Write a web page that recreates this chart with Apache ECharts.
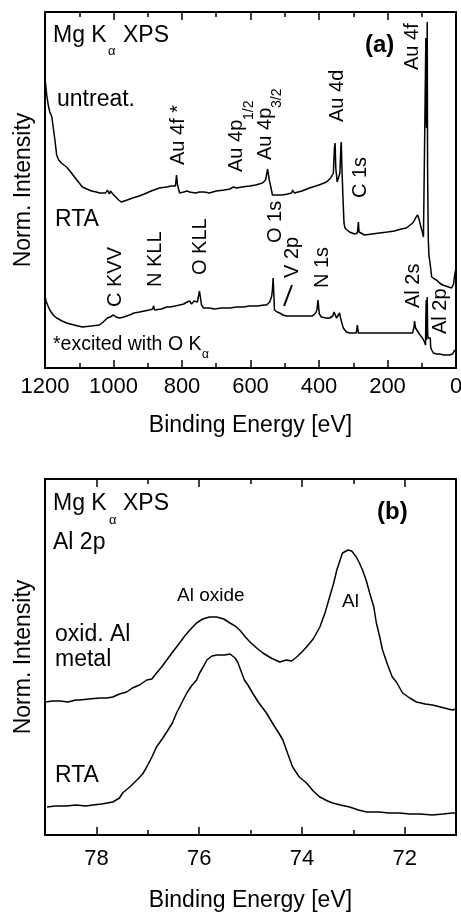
<!DOCTYPE html>
<html>
<head>
<meta charset="utf-8">
<script src="https://cdn.jsdelivr.net/npm/echarts@6/dist/echarts.min.js"></script>
<style>
  html, body { margin: 0; padding: 0; background: #fff; }
  #chart { width: 461px; height: 914px; }
</style>
</head>
<body>
<div id="chart"></div>
<script>
// (a) survey spectra, [binding energy eV, norm. intensity a.u.]
const surveyUntreated = [
  [1200,290],[1197,280],[1195,273],[1190,262],[1186,256],[1180,251],[1175,238],[1171,228],[1166,213],[1160,208],
  [1152,205],[1145,203],[1137,201],[1125,196],[1114,191],[1100,185],[1091,181],[1078,179],[1064,177],[1050,176],
  [1041,175],[1023,175],[1018,178],[1015,176],[1012,174],[1009,177],[1006,177],[1002,174],[997,172],[985,168],
  [977,166],[960,168],[944,170],[925,172],[910,174],[890,177],[866,180],[845,181],[831,182],[819,182],
  [816,193],[813,183],[807,175],[795,176],[785,177],[778,176],[760,175],[749,176],[735,176],[720,175],
  [700,177],[676,178],[660,179],[650,181],[647,182],[641,180],[625,181],[603,182],[585,183],[565,185],
  [556,188],[550,199],[546,190],[544,186],[540,180],[536,173],[520,173],[507,173],[492,174],[480,175],
  [477,178],[472,175],[450,177],[428,180],[400,183],[378,186],[366,190],[358,195],[355,220],[353,225],
  [351,200],[347,186],[343,185],[339,195],[336,222],[335,226],[333,200],[330,170],[327,145],[324,140],
  [318,138],[311,136],[296,134],[288,135],[285,146],[283,136],[282,134],[267,133],[245,134],[223,135],
  [200,136],[180,137],[160,139],[145,140],[130,144],[124,146],[118,150],[112,153],[108,149],[104,143],
  [99,137],[95,131],[90,130],[88,330],[87,250],[86,240],[84,346],[83,200],[81,130],[79,112],
  [77,108],[74,100],[71,91],[67,90],[63,89],[57,88],[48,85],[39,83],[30,82],[25,81],
  [13,80],[7,84],[4,93],[1,98]
];
const surveyRTA = [
  [1200,73],[1197,67],[1195,65],[1190,61],[1186,58],[1176,53],[1166,50],[1150,47],[1137,45],[1115,43],
  [1091,41],[1065,42],[1041,43],[1030,46],[1018,50],[1010,51],[1006,51],[1000,53],[997,53],[993,51],
  [988,50],[982,50],[970,51],[953,53],[940,55],[924,56],[910,57],[895,58],[886,59],[883,62],
  [880,58],[877,58],[860,59],[845,61],[836,61],[820,62],[807,63],[795,64],[785,66],[778,67],
  [772,64],[769,65],[765,67],[760,68],[755,66],[752,68],[749,77],[746,70],[743,63],[737,60],
  [720,60],[705,59],[685,60],[661,60],[640,61],[620,61],[603,62],[580,62],[560,63],[553,63],
  [544,66],[538,72],[536,78],[534,90],[532,75],[530,58],[522,56],[515,55],[505,53],[495,52],
  [475,52],[457,52],[440,52],[419,52],[410,55],[406,58],[403,68],[401,67],[399,54],[393,51],
  [380,50],[369,50],[360,52],[356,56],[353,55],[349,50],[344,52],[340,55],[337,50],[334,46],
  [329,40],[325,38],[320,36],[310,35],[291,35],[288,43],[285,35],[260,35],[223,35],[180,35],
  [150,35],[127,35],[123,40],[121,47],[118,40],[115,38],[107,34],[98,30],[92,26],[89,23],
  [88,50],[87,68],[86,28],[85,55],[84,71],[83,40],[82,30],[79,29],[77,31],[75,30],
  [74,21],[71,18],[66,15],[57,14],[48,14],[35,13],[19,13],[10,14],[4,18],[1,16]
];
// pointer from the "V 2p" label, in data units
const v2pPointer = [[479, 83], [502, 62]];

// (b) Al 2p spectra
const al2pOxidMetal = [
  [79.00,133],[78.85,134],[78.71,134],[78.55,133],[78.40,135],[78.32,135],[78.15,136],[77.93,137],[77.80,137],[77.68,138],
  [77.55,141],[77.41,143],[77.30,147],[77.16,150],[77.02,155],[76.92,156],[76.83,162],[76.73,168],[76.63,175],[76.50,184],
  [76.38,192],[76.28,199],[76.18,205],[76.05,212],[75.93,216],[75.80,218],[75.66,218],[75.52,216],[75.40,212],[75.30,209],
  [75.21,205],[75.10,198],[75.01,193],[74.88,187],[74.76,182],[74.60,177],[74.43,173],[74.30,175],[74.20,174],[74.10,178],
  [74.00,183],[73.91,188],[73.78,196],[73.65,208],[73.55,222],[73.46,238],[73.38,252],[73.32,265],[73.21,282],[73.10,285],
  [73.03,284],[72.94,278],[72.88,272],[72.82,265],[72.75,255],[72.68,242],[72.60,228],[72.55,212],[72.48,197],[72.43,185],
  [72.33,170],[72.24,158],[72.16,153],[72.04,142],[71.90,137],[71.77,133],[71.60,131],[71.46,130],[71.30,128],[71.15,126],
  [71.07,125],[71.00,126]
];
const al2pRTA = [
  [78.96,28],[78.80,29],[78.58,29],[78.40,30],[78.20,29],[78.07,30],[77.90,31],[77.68,33],[77.55,37],[77.49,42],
  [77.35,48],[77.21,55],[77.10,61],[77.02,68],[76.92,78],[76.83,88],[76.72,96],[76.63,103],[76.52,112],[76.44,122],
  [76.34,132],[76.24,142],[76.15,149],[76.05,155],[75.99,162],[75.90,170],[75.85,175],[75.75,179],[75.65,180],[75.50,180],
  [75.40,181],[75.30,177],[75.25,173],[75.17,162],[75.12,155],[75.05,150],[74.96,142],[74.85,133],[74.69,122],[74.55,110],
  [74.45,102],[74.37,95],[74.28,82],[74.18,68],[74.05,58],[73.91,52],[73.78,44],[73.65,38],[73.50,34],[73.40,32],
  [73.25,30],[73.07,28],[72.90,25],[72.74,23],[72.50,23],[72.30,22],[72.10,22],[71.90,21],[71.70,21],[71.46,20],
  [71.25,21],[71.07,22],[71.00,22]
];
const al2pMajorTicks = [72, 74, 76, 78];
const al2pMinorTicks = [73, 75, 77];

const FONT = 'Liberation Sans, Arial, sans-serif';
const chart = echarts.init(document.getElementById('chart'));

function frameX(grid, pos, extra) {
  return Object.assign({
    type: 'value', gridIndex: grid, position: pos, inverse: true,
    axisLine: { show: true, onZero: false, lineStyle: { color: '#000', width: 2 } },
    axisTick: { show: true, inside: true, length: 8, lineStyle: { color: '#000', width: 1.5 } },
    axisLabel: { show: false },
    splitLine: { show: false }
  }, extra);
}
function frameY(grid, pos, extra) {
  return Object.assign({
    type: 'value', gridIndex: grid, position: pos, min: 0, max: 356,
    axisLine: { show: true, onZero: false, lineStyle: { color: '#000', width: 2 } },
    axisTick: { show: false }, axisLabel: { show: false }, splitLine: { show: false }
  }, extra);
}
const yName = {
  name: 'Norm. Intensity', nameLocation: 'middle', nameGap: 10,
  nameTextStyle: { fontSize: 23, color: '#000', fontFamily: FONT }
};
const xName = (gap) => ({
  name: 'Binding Energy [eV]', nameLocation: 'middle', nameGap: gap,
  nameTextStyle: { fontSize: 23, color: '#000', fontFamily: FONT }
});

const surveyAxis = { min: 0, max: 1200, interval: 200,
  minorTick: { show: true, splitNumber: 2, length: 5, lineStyle: { color: '#000', width: 1.5 } } };

function txt(x, y, text, size, extra) {
  return Object.assign({
    type: 'text', x: x, y: y, silent: true,
    style: { text: text, fontSize: size, fontFamily: FONT, fill: '#000', align: 'left', verticalAlign: 'middle',
      fontWeight: (extra && extra.bold) ? 'bold' : 'normal' }
  }, extra && extra.rot ? { rotation: Math.PI / 2 } : {});
}
const up = { rot: true };

const graphics = [
  // panel (a)
  txt(53, 36, 'Mg K', 23), txt(108, 51, 'α', 13), txt(123, 36, 'XPS', 23),
  txt(365, 45, '(a)', 24, { bold: true }),
  txt(57, 100, 'untreat.', 23),
  txt(55, 220, 'RTA', 23),
  txt(53, 345, '*excited with O K', 19.5), txt(202, 355, 'α', 12),
  txt(178, 165, 'Au 4f *', 20, up),
  txt(236, 172, 'Au 4p', 20, up), txt(249, 120, '1/2', 14, up),
  txt(265, 160, 'Au 4p', 20, up), txt(277, 108, '3/2', 14, up),
  txt(337, 122, 'Au 4d', 20, up),
  txt(412, 70, 'Au 4f', 20, up),
  txt(360, 198, 'C 1s', 20, up),
  txt(275, 243, 'O 1s', 20, up),
  txt(292, 278, 'V 2p', 20, up),
  txt(322, 288, 'N 1s', 20, up),
  txt(413, 308, 'Al 2s', 20, up),
  txt(440, 334, 'Al 2p', 20, up),
  txt(115, 307, 'C KVV', 20, up),
  txt(155, 287, 'N KLL', 20, up),
  txt(200, 275, 'O KLL', 20, up),
  // panel (b)
  txt(53, 504, 'Mg K', 23), txt(109, 520, 'α', 13), txt(123, 504, 'XPS', 23),
  txt(377, 512, '(b)', 24, { bold: true }),
  txt(53, 543, 'Al 2p', 23),
  txt(177, 596, 'Al oxide', 19),
  txt(342, 602, 'Al', 19),
  txt(55, 635, 'oxid. Al', 23),
  txt(55, 660, 'metal', 23),
  txt(55, 776, 'RTA', 23)
];

const lineStyle = { color: '#000', width: 1.5 };
const option = {
  animation: false,
  textStyle: { fontFamily: FONT, color: '#000' },
  grid: [
    { left: 45, top: 12, width: 411, height: 356, containLabel: false, outerBoundsMode: 'none' },
    { left: 45, top: 479, width: 411, height: 356, containLabel: false, outerBoundsMode: 'none' }
  ],
  xAxis: [
    frameX(0, 'bottom', Object.assign({}, surveyAxis, xName(46), {
      axisLabel: { show: true, fontSize: 22, color: '#000', margin: 8, showMinLabel: true, showMaxLabel: true,
        fontFamily: FONT, formatter: (v) => String(v) }
    })),
    frameX(0, 'top', Object.assign({}, surveyAxis)),
    frameX(1, 'bottom', Object.assign({ min: 71, max: 79 }, xName(54), {
      axisTick: { show: true, inside: true, length: 8, customValues: al2pMajorTicks, lineStyle: { color: '#000', width: 1.5 } },
      axisLabel: { show: true, fontSize: 22, color: '#000', margin: 13, customValues: al2pMajorTicks,
        fontFamily: FONT, formatter: (v) => String(v) }
    })),
    frameX(1, 'bottom', { min: 71, max: 79, axisLine: { show: false, onZero: false },
      axisTick: { show: true, inside: true, length: 5, customValues: al2pMinorTicks, lineStyle: { color: '#000', width: 1.5 } } }),
    frameX(1, 'top', { min: 71, max: 79,
      axisTick: { show: true, inside: true, length: 8, customValues: al2pMajorTicks, lineStyle: { color: '#000', width: 1.5 } } }),
    frameX(1, 'top', { min: 71, max: 79, axisLine: { show: false, onZero: false },
      axisTick: { show: true, inside: true, length: 5, customValues: al2pMinorTicks, lineStyle: { color: '#000', width: 1.5 } } })
  ],
  yAxis: [
    frameY(0, 'left', yName),
    frameY(0, 'right'),
    frameY(1, 'left', yName),
    frameY(1, 'right')
  ],
  series: [
    { name: 'untreat.', type: 'line', xAxisIndex: 0, yAxisIndex: 0, data: surveyUntreated,
      showSymbol: false, symbol: 'none', lineStyle: lineStyle, silent: true },
    { name: 'RTA', type: 'line', xAxisIndex: 0, yAxisIndex: 0, data: surveyRTA,
      showSymbol: false, symbol: 'none', lineStyle: lineStyle, silent: true,
      markLine: { silent: true, symbol: 'none', animation: false, label: { show: false },
        lineStyle: { color: '#000', width: 2, type: 'solid' },
        data: [[{ coord: v2pPointer[0] }, { coord: v2pPointer[1] }]] } },
    { name: 'oxid. Al metal', type: 'line', xAxisIndex: 2, yAxisIndex: 2, data: al2pOxidMetal,
      showSymbol: false, symbol: 'none', lineStyle: lineStyle, silent: true },
    { name: 'RTA (b)', type: 'line', xAxisIndex: 2, yAxisIndex: 2, data: al2pRTA,
      showSymbol: false, symbol: 'none', lineStyle: lineStyle, silent: true }
  ],
  graphic: graphics
};
chart.setOption(option);
</script>
</body>
</html>
